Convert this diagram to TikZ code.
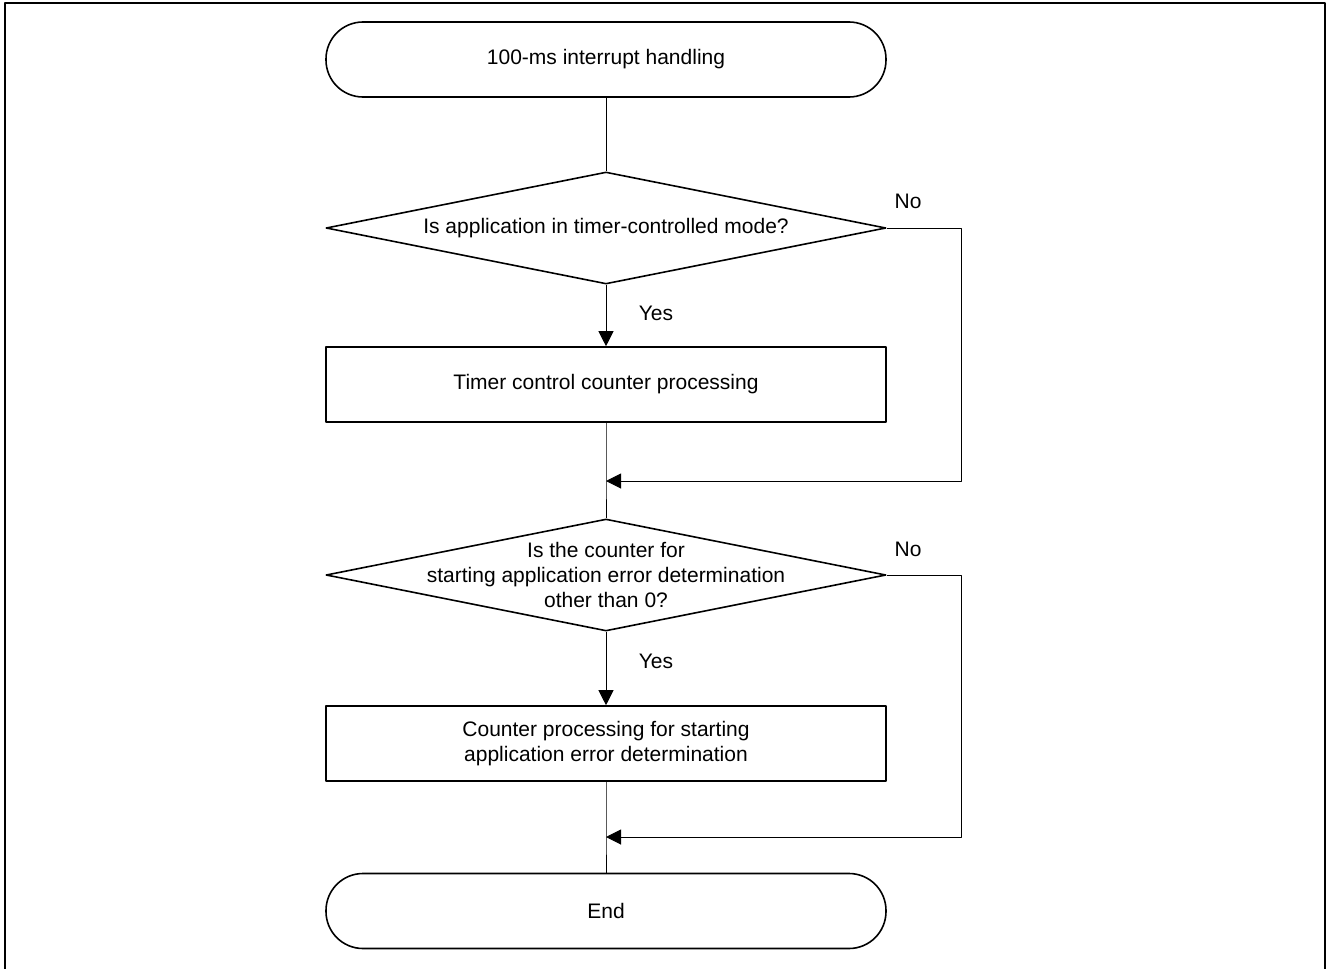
\documentclass[tikz,border=0pt]{standalone}
\usepackage{fontspec}
\setmainfont{Liberation Sans}
\usetikzlibrary{shapes.geometric,arrows.meta}
\tikzset{
	terminal/.style={draw,line width=1.6pt,rectangle,rounded corners=37pt,minimum width=560pt,minimum height=75pt},
	process/.style={draw,line width=1.6pt,rectangle,minimum width=560pt,minimum height=75pt,align=center},
	decision/.style={draw,line width=1.6pt,diamond,inner sep=0pt,minimum width=560pt,minimum height=112pt},
	flow/.style={line width=1pt}
}
\begin{document}
\begin{tikzpicture}[>={Stealth[inset=0pt,length=15pt,width=15pt]},line join=round,x=1pt,y=-1pt
	,font=\fontsize{21}{25}\selectfont
	]
	%	\draw[thin,gray!50,step=100] (0,0) grid (1328,969);
	\useasboundingbox (0,0) rectangle (1328,969);
	\draw[line width=1.5pt] (5,969)--(5,3)--(1325,3)--(1325,969);
	
	\node[terminal] (start) at (606,59.5) {100-ms interrupt handling};
	\node[decision] (dec1) at (606,228) {};
	\node[align=center] (dec1txt) at (dec1) {Is application in timer-controlled mode?};
	\node[process] (proc1) at (606,384.5) {Timer control counter processing};
	\coordinate (join1) at (606,481);
	\node[decision] (dec2) at (606,575) {};
	\node[align=center] (dec2txt) at (dec2) {Is the counter for\\starting application error determination\\other than 0?};
	\node[process] (proc2) at (606,743.5) {Counter processing for starting\\application error determination};
	\coordinate (join2) at (606,837);
	\node[terminal] (stop) at (606,911) {End};
	
	\draw[flow] (start)--(dec1);
	\draw[flow,->] (dec1)--(proc1);
	\draw[flow] (proc1)--(join1)--(dec2);
	\draw[flow,->] (dec1.east)--(961,228)--(961,481)--(join1);
	\draw[flow,->] (dec2)--(proc2);
	\draw[flow] (proc2)--(join2)--(stop);
	\draw[flow,->] (dec2.east)--(961,575)--(961,837)--(join2);
	
	\draw (656,313) node (yes1){Yes};
	\draw (908,201) node (no1){No};
	\draw (656,661) node (yes2){Yes};
	\draw (908,549) node (no2){No};
\end{tikzpicture}
\end{document}
